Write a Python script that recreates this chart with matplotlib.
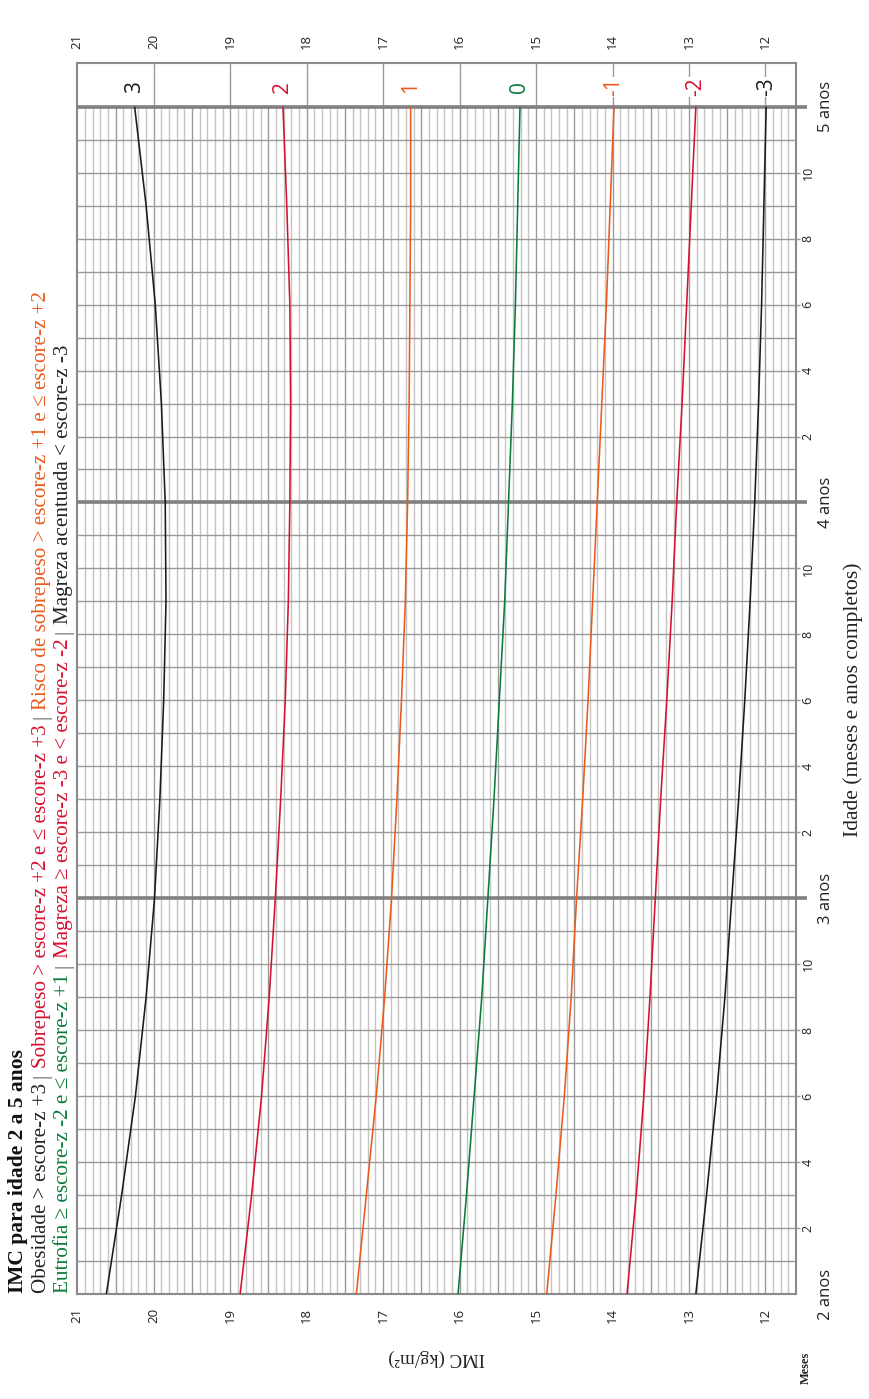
import matplotlib
matplotlib.use('Agg')
import matplotlib.pyplot as plt
import numpy as np

# Dados (IMC por idade, 24 a 60 meses)
meses = [24, 27, 30, 33, 36, 39, 42, 45, 48, 51, 54, 57, 60]
z_p3 = [20.62, 20.42, 20.24, 20.10, 19.99, 19.92, 19.87, 19.84, 19.85, 19.90, 19.98, 20.10, 20.25]
z_p2 = [18.87, 18.72, 18.59, 18.49, 18.41, 18.34, 18.28, 18.24, 18.22, 18.21, 18.22, 18.26, 18.31]
z_p1 = [17.35, 17.22, 17.09, 16.98, 16.89, 16.82, 16.76, 16.71, 16.68, 16.66, 16.65, 16.64, 16.64]
z_0 = [16.02, 15.91, 15.81, 15.71, 15.63, 15.55, 15.48, 15.41, 15.36, 15.31, 15.27, 15.24, 15.21]
z_m1 = [14.86, 14.74, 14.63, 14.54, 14.47, 14.39, 14.32, 14.26, 14.20, 14.14, 14.08, 14.03, 13.98]
z_m2 = [13.81, 13.69, 13.59, 13.51, 13.44, 13.37, 13.29, 13.22, 13.16, 13.09, 13.03, 12.97, 12.91]
z_m3 = [12.91, 12.77, 12.64, 12.53, 12.44, 12.35, 12.27, 12.20, 12.14, 12.09, 12.05, 12.02, 11.99]

curvas = [z_p3, z_p2, z_p1, z_0, z_m1, z_m2, z_m3]
rotulos = ['3', '2', '1', '0', '-1', '-2', '-3']

PRETO = '#1a1a1a'
VERMELHO = '#d7102f'
LARANJA = '#ea5a1c'
VERDE = '#0b7a3b'
cores = [PRETO, VERMELHO, LARANJA, VERDE, LARANJA, VERMELHO, PRETO]

imc_ticks = [21, 20, 19, 18, 17, 16, 15, 14, 13, 12]
anos = [24, 36, 48, 60]
anos_txt = ['2 anos', '3 anos', '4 anos', '5 anos']

W, H = 869, 1399
fig = plt.figure(figsize=(W / 100, H / 100), dpi=100)

# eixo: x = IMC (invertido), y = idade em meses
x0, x1 = 77.3, 796.0
y0, y1 = 62.7, 1294.0
ax = fig.add_axes([x0 / W, 1 - y1 / H, (x1 - x0) / W, (y1 - y0) / H])
ax.set_xlim(21, 11.6)
ax.set_ylim(24, 60 + 44.0 / 32.98)

CINZA_CLARO = '#c4c4c4'
CINZA = '#9a9a9a'
CINZA_ESC = '#808080'

# grade fina de 0,1
finas = np.round(np.arange(11.7, 21.0, 0.1), 1)
finas_claras = [v for v in finas if abs(v * 2 - round(v * 2)) > 1e-6]
finas_meio = [v for v in finas if abs(v * 2 - round(v * 2)) <= 1e-6]
ax.vlines(finas_claras, 24, 60, color=CINZA_CLARO, lw=1.0, zorder=1)
ax.vlines(finas_meio, 24, 60, color=CINZA, lw=1.0, zorder=1.5)
inteiros = list(range(12, 21))
ax.vlines(inteiros, 60, ax.get_ylim()[1], color=CINZA, lw=1.0, zorder=1.5)

# linhas de cada mês
mes_linhas = [m for m in range(25, 60) if m not in anos]
ax.hlines(mes_linhas, 21, 11.6, color=CINZA, lw=1.0, zorder=2)
ax.hlines(anos[1:], 21, 11.46, color=CINZA_ESC, lw=2.6, zorder=3, clip_on=False)

# curvas de escore-z
for serie, cor in zip(curvas, cores):
    ax.plot(serie, meses, color=cor, lw=1.15, zorder=5, solid_capstyle='butt')

for serie, cor, rot in zip(curvas, cores, rotulos):
    ax.text(serie[-1], 60.6, rot, color=cor, rotation=90, ha='center', va='center',
            fontsize=15, family='Open Sans', zorder=6,
            bbox=dict(facecolor='white', edgecolor='none', pad=0.6))

for s in ax.spines.values():
    s.set_color('#8a8a8a')
    s.set_linewidth(1.5)

# ticks de IMC em cima e embaixo
ax.set_xticks(imc_ticks)
ax.set_xticklabels([str(v) for v in imc_ticks])
ax.tick_params(axis='x', top=True, labeltop=True, bottom=True, labelbottom=True,
               length=0, pad=10, labelrotation=90, labelsize=9.5, labelcolor='#222222')
for lab in ax.get_xticklabels():
    lab.set_family('Open Sans')

# meses à direita
mes_ticks = [m for m in range(26, 60, 2) if m not in anos]
ax.yaxis.tick_right()
ax.set_yticks(mes_ticks)
ax.set_yticklabels([str((m - 24) % 12) for m in mes_ticks])
ax.tick_params(axis='y', length=3, width=1.0, color=CINZA, pad=1, labelrotation=90,
               labelsize=9, labelcolor='#222222')
for lab in ax.get_yticklabels():
    lab.set_family('Open Sans')
    lab.set_verticalalignment('center')

for a, t in zip(anos, anos_txt):
    ax.text(1 + (826 - x1) / (x1 - x0), a, t, transform=ax.get_yaxis_transform(),
            rotation=90, ha='center', va='center', fontsize=12, family='Open Sans',
            color='#222222')

SERIF = ['Liberation Serif', 'DejaVu Serif']
fig.text(437 / W, 1 - 1358 / H, 'IMC (kg/m²)', rotation=180, ha='center', va='center',
         fontsize=13.5, family=SERIF, color='#222222')
fig.text(853 / W, 1 - 700 / H, 'Idade (meses e anos completos)', rotation=90,
         ha='center', va='center', fontsize=15.5, family=SERIF, color='#222222')
fig.text(806 / W, 1 - 1368 / H, 'Meses', rotation=90, ha='center', va='center',
         fontsize=9, family=SERIF, weight='bold', color='#222222')

# título e legenda em linhas rotacionadas, com trechos coloridos
renderer = fig.canvas.get_renderer()


def linha_colorida(x_px, y_px, trechos, size, weight='normal'):
    y = y_px
    espaco = 0.25 * size * 100 / 72
    for txt, cor in trechos:
        t = fig.text(x_px / W, 1 - y / H, txt, color=cor, rotation=90,
                     rotation_mode='anchor', ha='left', va='baseline',
                     fontsize=size, family=SERIF, weight=weight)
        bb = t.get_window_extent(renderer)
        y = y - bb.height - espaco


linha_colorida(23, 1293, [('IMC para idade 2 a 5 anos', '#111111')], 15.5, 'bold')
linha_colorida(46, 1293, [('Obesidade > escore-z +3', '#222222'), ('|', '#555555'),
                          ('Sobrepeso > escore-z +2 e ≤ escore-z +3', VERMELHO), ('|', '#555555'),
                          ('Risco de sobrepeso > escore-z +1 e ≤ escore-z +2', LARANJA)], 15.2)
linha_colorida(68, 1293, [('Eutrofia ≥ escore-z -2 e ≤ escore-z +1', VERDE), ('|', '#555555'),
                          ('Magreza ≥ escore-z -3 e < escore-z -2', VERMELHO), ('|', '#555555'),
                          ('Magreza acentuada < escore-z -3', '#222222')], 15.2)

fig.savefig('out.png', dpi=100)
